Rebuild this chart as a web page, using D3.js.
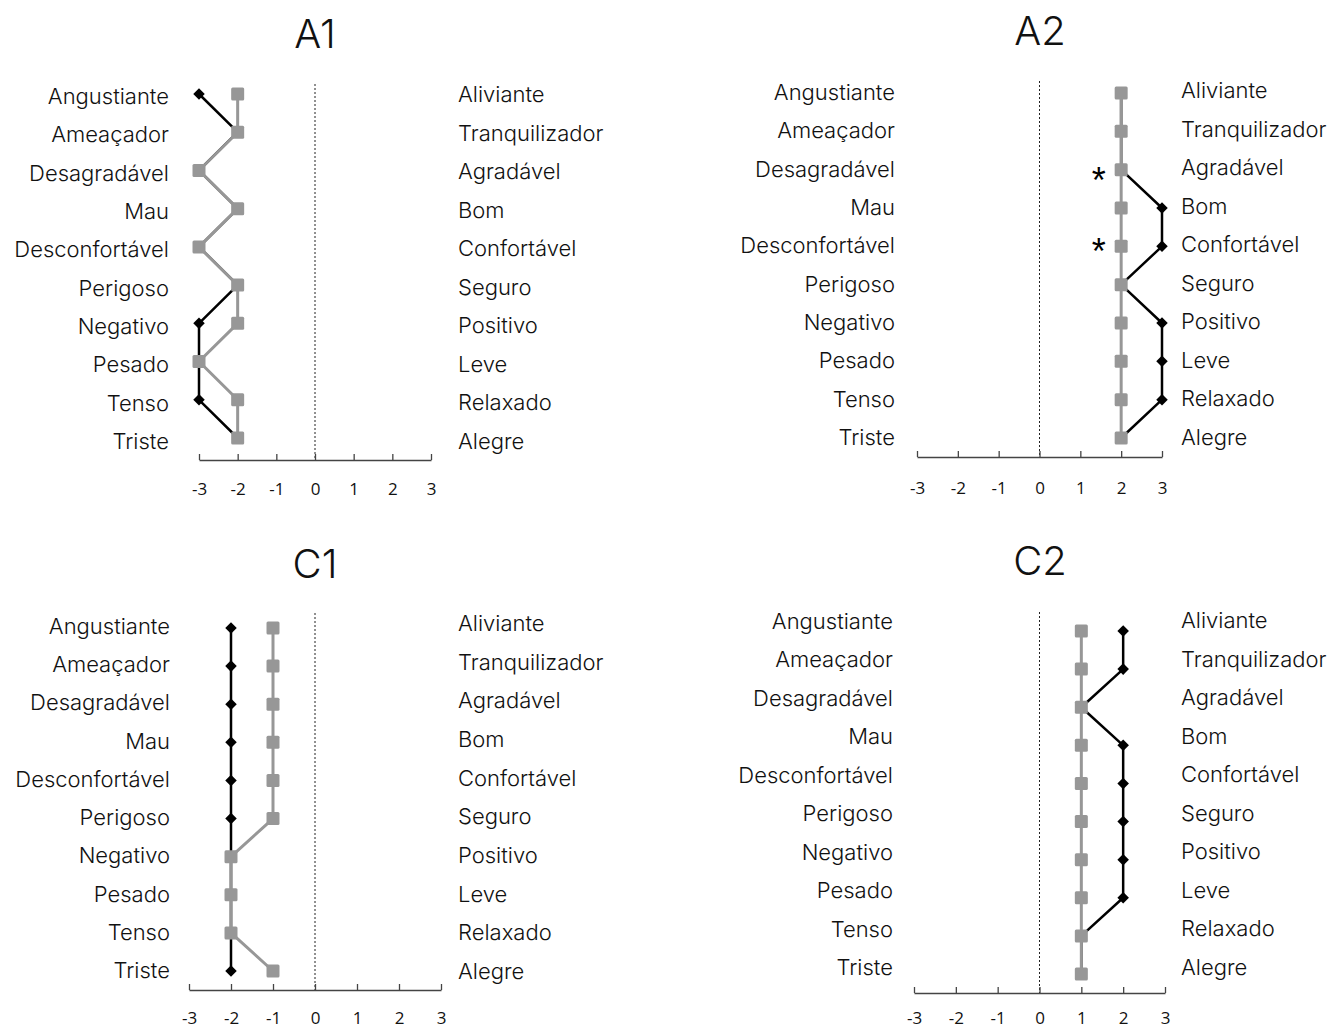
<!DOCTYPE html>
<html>
<head>
<meta charset="utf-8">
<script src="https://cdn.jsdelivr.net/npm/d3@7"></script>
<style>
  html, body { margin: 0; padding: 0; background: #fff; }
  svg { display: block; }
</style>
</head>
<body>
<svg id="chart" width="1328" height="1030"></svg>
<script>
// ---------- DATA ----------
const leftLabels  = ["Angustiante","Ameaçador","Desagradável","Mau","Desconfortável","Perigoso","Negativo","Pesado","Tenso","Triste"];
const rightLabels = ["Aliviante","Tranquilizador","Agradável","Bom","Confortável","Seguro","Positivo","Leve","Relaxado","Alegre"];
const xTicks = [-3,-2,-1,0,1,2,3];
const panelTitles = ["A1","A2","C1","C2"];

const a1Black = [-3,-2,-3,-2,-3,-2,-3,-3,-3,-2];
const a1Gray  = [-2,-2,-3,-2,-3,-2,-2,-3,-2,-2];
const a2Black = [ 2, 2, 2, 3, 3, 2, 3, 3, 3, 2];
const a2Gray  = [ 2, 2, 2, 2, 2, 2, 2, 2, 2, 2];
const c1Black = [-2,-2,-2,-2,-2,-2,-2,-2,-2,-2];
const c1Gray  = [-1,-1,-1,-1,-1,-1,-2,-2,-2,-1];
const c2Black = [ 2, 2, 1, 2, 2, 2, 2, 2, 1, 1];
const c2Gray  = [ 1, 1, 1, 1, 1, 1, 1, 1, 1, 1];

// significance markers (A2): row index and x value
const a2Stars = [{row: 2, x: 1.45, dy: 11}, {row: 4, x: 1.45, dy: 5}];

// ---------- LAYOUT ----------
const panels = [
  {title: panelTitles[0], black: a1Black, gray: a1Gray, stars: [],
   xr: [199, 431], rows: [94, 438], axisY: 460, dashTop: 84, labs: [96, 441], rlabs: [94, 441],
   leftX: 169, rightX: 458, tx: 315, ty: 33, tickPad: 23},
  {title: panelTitles[1], black: a2Black, gray: a2Gray, stars: a2Stars,
   xr: [917, 1162], rows: [93, 438], axisY: 457, dashTop: 81, labs: [92, 437], rlabs: [90, 437],
   leftX: 895, rightX: 1181, tx: 1040, ty: 30, tickPad: 25},
  {title: panelTitles[2], black: c1Black, gray: c1Gray, stars: [],
   xr: [189, 441], rows: [628, 971], axisY: 990, dashTop: 613, labs: [626, 970], rlabs: [623, 971],
   leftX: 170, rightX: 458, tx: 315, ty: 563, tickPad: 22},
  {title: panelTitles[3], black: c2Black, gray: c2Gray, stars: [],
   xr: [914, 1165], rows: [631, 974], axisY: 993, dashTop: 612, labs: [621, 967], rlabs: [620, 967],
   leftX: 893, rightX: 1181, tx: 1040, ty: 560, tickPad: 19}
];

const svg = d3.select("#chart");
const labelFont = "Inter, 'Liberation Sans', Arial, sans-serif";
const tickFont = "'Open Sans', 'Liberation Sans', sans-serif";
const grayCol = "#979797";

panels.forEach(p => {
  const g = svg.append("g");
  const x = d3.scaleLinear().domain([-3, 3]).range(p.xr);
  const idx = d3.range(leftLabels.length);
  const y = d3.scalePoint().domain(idx).range(p.rows);
  const yl = d3.scalePoint().domain(idx).range(p.labs);
  const yr = d3.scalePoint().domain(idx).range(p.rlabs);

  // title
  g.append("text").attr("x", p.tx).attr("y", p.ty)
    .attr("text-anchor", "middle").attr("dominant-baseline", "central")
    .style("font-family", labelFont).style("font-weight", 300)
    .style("font-size", "40px").style("fill", "#111")
    .text(p.title);

  // left labels
  g.selectAll(".ll").data(leftLabels).join("text")
    .attr("x", p.leftX).attr("y", (d, i) => yl(i))
    .attr("text-anchor", "end").attr("dominant-baseline", "central")
    .style("font-family", labelFont).style("font-weight", 300).style("font-size", "22px")
    .style("fill", "#111")
    .text(d => d);

  // right labels
  g.selectAll(".rl").data(rightLabels).join("text")
    .attr("x", p.rightX).attr("y", (d, i) => yr(i))
    .attr("text-anchor", "start").attr("dominant-baseline", "central")
    .style("font-family", labelFont).style("font-weight", 300).style("font-size", "22px")
    .style("fill", "#111")
    .text(d => d);

  // zero dotted line
  g.append("line")
    .attr("x1", x(0)).attr("x2", x(0)).attr("y1", p.dashTop).attr("y2", p.axisY)
    .attr("stroke", "#222").attr("stroke-width", 1).attr("stroke-dasharray", "2,2");

  // x axis
  const axis = d3.axisBottom(x).tickValues(xTicks).tickFormat(d3.format("d"))
    .tickSizeInner(-6).tickSizeOuter(0).tickPadding(p.tickPad);
  const ag = g.append("g").attr("transform", `translate(0,${p.axisY})`).call(axis)
    .attr("font-size", 17).attr("font-family", tickFont);
  ag.select(".domain").attr("stroke", "#444").attr("stroke-width", 1.3);
  ag.selectAll(".tick line").attr("stroke", "#444").attr("stroke-width", 1.3);
  ag.selectAll(".tick text")
    .style("font-size", "17px").style("font-family", tickFont).style("fill", "#111")
    .text(d => d < 0 ? "-" + Math.abs(d) : d);

  const line = d3.line().x(d => x(d[0])).y(d => y(d[1]));

  // black series (under)
  const bPts = p.black.map((v, i) => [v, i]);
  g.append("path").datum(bPts).attr("d", line)
    .attr("fill", "none").attr("stroke", "#000").attr("stroke-width", 2.5).attr("stroke-linejoin", "round");
  g.selectAll(".dia").data(bPts).join("path")
    .attr("transform", d => `translate(${x(d[0])},${y(d[1])})`)
    .attr("d", d3.symbol().type(d3.symbolDiamond2).size(85))
    .attr("fill", "#000");

  // gray series (over)
  const gPts = p.gray.map((v, i) => [v, i]);
  g.append("path").datum(gPts).attr("d", line)
    .attr("fill", "none").attr("stroke", grayCol).attr("stroke-width", 3).attr("stroke-linejoin", "round");
  g.selectAll(".sq").data(gPts).join("rect")
    .attr("x", d => x(d[0]) - 6.5).attr("y", d => y(d[1]) - 6.5)
    .attr("width", 13).attr("height", 13).attr("rx", 1.5)
    .attr("fill", grayCol);

  // stars
  g.selectAll(".star").data(p.stars).join("text")
    .attr("x", d => x(d.x)).attr("y", d => y(d.row) + d.dy)
    .attr("text-anchor", "middle").attr("dominant-baseline", "central")
    .style("font-family", "'Liberation Sans', Arial, sans-serif").style("font-size", "36px").style("fill", "#000")
    .text("*");
});
</script>
</body>
</html>
